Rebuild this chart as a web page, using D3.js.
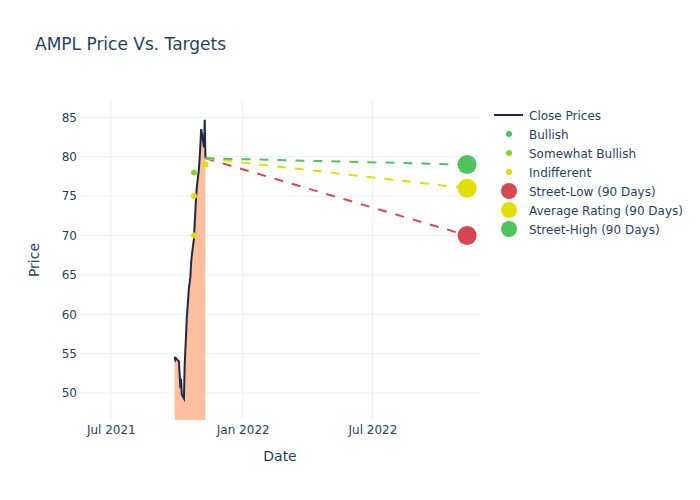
<!DOCTYPE html>
<html>
<head>
<meta charset="utf-8">
<script src="https://cdn.jsdelivr.net/npm/d3@7"></script>
<style>
	body{margin:0;background:#fff;}
	text{font-family:"DejaVu Sans", Verdana, sans-serif;fill:#2a3f5f;}
</style>
</head>
<body>
<div id="chart"></div>
<script>
// close prices
const closeDates = ["2021-09-28","2021-09-29","2021-09-30","2021-10-01","2021-10-04","2021-10-05","2021-10-06","2021-10-07","2021-10-08",
	"2021-10-11","2021-10-12","2021-10-13","2021-10-14","2021-10-15","2021-10-18","2021-10-19","2021-10-20","2021-10-21","2021-10-22",
	"2021-10-25","2021-10-26","2021-10-27","2021-10-28","2021-10-29","2021-11-01","2021-11-02","2021-11-03","2021-11-04","2021-11-05",
	"2021-11-08","2021-11-09","2021-11-10"];
const closeValues = [54.6,54.2,54.4,54.3,54.0,52.4,50.6,51.8,49.8,
	49.3,53.5,55.5,57.5,59.6,63.4,64.0,64.8,66.5,67.5,
	69.6,71.5,73.2,75.0,76.2,78.5,80.0,81.6,83.5,83.0,
	81.2,84.7,79.8];

// analyst ratings
const bullishDates = [];
const bullishValues = [];
const somewhatDates = ["2021-10-25"];
const somewhatValues = [78];
const indifferentDates = ["2021-10-25","2021-10-25","2021-11-10"];
const indifferentValues = [75,70,79];

// 90 day targets
const targetDate = "2022-11-10";
const targetNames = ["Street-Low (90 Days)","Average Rating (90 Days)","Street-High (90 Days)"];
const targetValues = [70,76,79];

const yTicks = [50,55,60,65,70,75,80,85];
const xTicks = ["2021-07-01","2022-01-01","2022-07-01"];
const xTickLabels = ["Jul 2021","Jan 2022","Jul 2022"];

const width = 700, height = 500,
	plotLeft = 80, plotRight = 480, plotTop = 100, plotBottom = 420;

const parse = d3.timeParse("%Y-%m-%d");

const colors = {
	close: "#1f2a48",
	fill: "#fdbf9e",
	bullish: "#4cc35a",
	somewhat: "#8ed12a",
	indifferent: "#dede00",
	low: "#d6474f",
	average: "#e0e000",
	high: "#4fc45d"
};
const targetColors = [colors.low, colors.average, colors.high];

const svg = d3.select("#chart").append("svg")
	.attr("width", width)
	.attr("height", height);

const x = d3.scaleTime()
	.domain([parse("2021-05-19"), parse("2022-11-28")])
	.range([plotLeft, plotRight]);
const y = d3.scaleLinear()
	.domain([46.57, 87.2])
	.range([plotBottom, plotTop]);

drawGrid();
drawAxes();
drawPrices();
drawRatings();
drawTargets();
drawLegend();

function drawGrid(){
	let grid = svg.append("g").attr("stroke", "#ebf0f8").attr("stroke-width", 1);
	grid.selectAll(".ygrid").data(yTicks).enter().append("line")
		.attr("x1", plotLeft).attr("x2", plotRight)
		.attr("y1", d => y(d)).attr("y2", d => y(d));
	grid.selectAll(".xgrid").data(xTicks).enter().append("line")
		.attr("x1", d => x(parse(d))).attr("x2", d => x(parse(d)))
		.attr("y1", plotTop).attr("y2", plotBottom);
}

function drawAxes(){
	let yAxis = d3.axisLeft(y).tickValues(yTicks).tickSize(0).tickPadding(3);
	svg.append("g")
		.attr("transform", "translate(" + plotLeft + ",0)")
		.call(yAxis)
		.call(g => g.select(".domain").remove())
		.selectAll("text").attr("font-size", 12).style("fill", "#2a3f5f");

	let xAxis = d3.axisBottom(x)
		.tickValues(xTicks.map(parse))
		.tickFormat((d, i) => xTickLabels[i])
		.tickSize(0).tickPadding(5);
	svg.append("g")
		.attr("transform", "translate(0," + plotBottom + ")")
		.call(xAxis)
		.call(g => g.select(".domain").remove())
		.selectAll("text").attr("font-size", 12).style("fill", "#2a3f5f");

	svg.append("text")
		.attr("x", (plotLeft + plotRight) / 2).attr("y", 461)
		.attr("text-anchor", "middle").attr("font-size", 14)
		.text("Date");
	svg.append("text")
		.attr("transform", "translate(39," + (plotTop + plotBottom) / 2 + ") rotate(-90)")
		.attr("text-anchor", "middle").attr("font-size", 14)
		.text("Price");
	svg.append("text")
		.attr("x", 35).attr("y", 50)
		.attr("font-size", 17)
		.text("AMPL Price Vs. Targets");
}

function drawPrices(){
	let data = closeDates.map((d, i) => ({date: parse(d), value: closeValues[i]}));

	svg.append("clipPath").attr("id", "plotclip")
		.append("rect")
		.attr("x", plotLeft).attr("y", plotTop)
		.attr("width", plotRight - plotLeft).attr("height", plotBottom - plotTop);

	let area = d3.area()
		.x(d => x(d.date))
		.y0(y(0))
		.y1(d => y(d.value));
	let line = d3.line()
		.x(d => x(d.date))
		.y(d => y(d.value));

	let g = svg.append("g").attr("clip-path", "url(#plotclip)");
	g.append("path")
		.datum(data)
		.attr("d", area)
		.attr("fill", colors.fill);
	g.append("path")
		.datum(data)
		.attr("d", line)
		.attr("fill", "none")
		.attr("stroke", colors.close)
		.attr("stroke-width", 2);
}

function drawRatings(){
	let sets = [
		{dates: bullishDates, values: bullishValues, color: colors.bullish},
		{dates: somewhatDates, values: somewhatValues, color: colors.somewhat},
		{dates: indifferentDates, values: indifferentValues, color: colors.indifferent}
	];
	sets.forEach(function(s){
		svg.append("g").selectAll("circle")
			.data(s.dates.map((d, i) => ({date: parse(d), value: s.values[i]})))
			.enter().append("circle")
			.attr("cx", d => x(d.date))
			.attr("cy", d => y(d.value))
			.attr("r", 3)
			.attr("fill", s.color);
	});
}

function drawTargets(){
	let lastDate = parse(closeDates[closeDates.length - 1]),
		lastValue = closeValues[closeValues.length - 1],
		end = parse(targetDate);

	svg.append("g").selectAll("line")
		.data(targetValues)
		.enter().append("line")
		.attr("x1", x(lastDate)).attr("y1", y(lastValue))
		.attr("x2", x(end)).attr("y2", d => y(d))
		.attr("stroke", (d, i) => targetColors[i])
		.attr("stroke-width", 2)
		.attr("stroke-dasharray", "9,9");

	svg.append("g").selectAll("circle")
		.data(targetValues)
		.enter().append("circle")
		.attr("cx", x(end))
		.attr("cy", d => y(d))
		.attr("r", 9.5)
		.attr("fill", (d, i) => targetColors[i]);
}

function drawLegend(){
	let items = [
		{name: "Close Prices", type: "line", color: colors.close},
		{name: "Bullish", type: "dot", color: colors.bullish},
		{name: "Somewhat Bullish", type: "dot", color: colors.somewhat},
		{name: "Indifferent", type: "dot", color: colors.indifferent}
	].concat(targetNames.map((n, i) => ({name: n, type: "big", color: targetColors[i]})));

	let legend = svg.append("g").attr("transform", "translate(494,115)");
	let rows = legend.selectAll("g").data(items).enter().append("g")
		.attr("transform", (d, i) => "translate(0," + i * 19 + ")");

	rows.filter(d => d.type === "line").append("line")
		.attr("x1", 0).attr("x2", 29).attr("y1", 0).attr("y2", 0)
		.attr("stroke", d => d.color).attr("stroke-width", 2);
	rows.filter(d => d.type !== "line").append("circle")
		.attr("cx", 15).attr("cy", 0)
		.attr("r", d => d.type === "big" ? 8 : 3)
		.attr("fill", d => d.color);
	rows.append("text")
		.attr("x", 35).attr("y", 4.5)
		.attr("font-size", 12)
		.text(d => d.name);
}
</script>
</body>
</html>
